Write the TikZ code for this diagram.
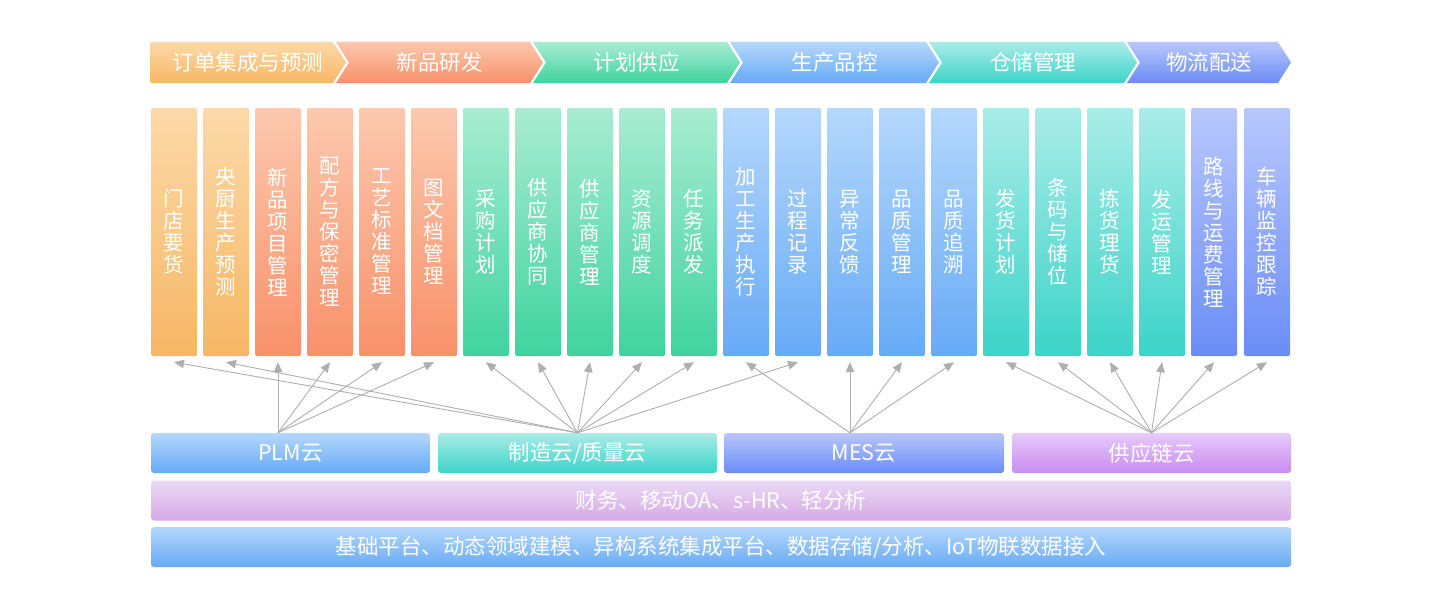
\documentclass[tikz,border=0pt]{standalone}
\usepackage{fontspec}
\setmainfont{Noto Sans CJK SC}
\usepackage{xcolor}
\usetikzlibrary{arrows.meta}
\definecolor{orange_top}{HTML}{FCD9A8}
\definecolor{orange_bot}{HTML}{F7B765}
\definecolor{salmon_top}{HTML}{FCC8AE}
\definecolor{salmon_bot}{HTML}{F8916A}
\definecolor{green_top}{HTML}{A9ECD2}
\definecolor{green_bot}{HTML}{3FD39F}
\definecolor{blue_top}{HTML}{B5D7FC}
\definecolor{blue_bot}{HTML}{66AAF6}
\definecolor{teal_top}{HTML}{AAECE7}
\definecolor{teal_bot}{HTML}{3CD4C9}
\definecolor{peri_top}{HTML}{B8C7FC}
\definecolor{peri_bot}{HTML}{6A8CF6}
\definecolor{purple_top}{HTML}{E7CAFA}
\definecolor{purple_bot}{HTML}{C98BF2}
\definecolor{lilac_top}{HTML}{EBDAF5}
\definecolor{lilac_bot}{HTML}{D5A9E6}
\definecolor{arrow_gray}{HTML}{AFAFAF}

\begin{document}
\begin{tikzpicture}[x=1pt, y=-1pt, >={Triangle[length=10pt,width=8.5pt]},
  every node/.style={text=white, inner sep=0pt},
  col/.style={minimum width=46pt, minimum height=248pt, rounded corners=2pt,
    align=center, font=\fontsize{20.5}{22}\selectfont},
  layer/.style={minimum height=40pt, rounded corners=3pt, font=\fontsize{21.5}{24}\selectfont},
  band/.style={font=\fontsize{21.5}{24}\selectfont},
  link/.style={->, arrow_gray, line width=0.9pt}]

  \fill[white] (0,0) rectangle (1440,610);

  % process banner
  \shade[top color=orange_top, bottom color=orange_bot, rounded corners=2pt]
    (150,42) -- (333,42) [sharp corners] -- (346,62.5) -- (333,83) [rounded corners=2pt] -- (150,83) -- cycle;
  \shade[top color=salmon_top, bottom color=salmon_bot]
    (336,42) -- (530,42) -- (543,62.5) -- (530,83) -- (336,83) -- (349,62.5) -- cycle;
  \shade[top color=green_top, bottom color=green_bot]
    (533,42) -- (727,42) -- (740,62.5) -- (727,83) -- (533,83) -- (546,62.5) -- cycle;
  \shade[top color=blue_top, bottom color=blue_bot]
    (730,42) -- (926,42) -- (939,62.5) -- (926,83) -- (730,83) -- (743,62.5) -- cycle;
  \shade[top color=teal_top, bottom color=teal_bot]
    (929,42) -- (1124,42) -- (1137,62.5) -- (1124,83) -- (929,83) -- (942,62.5) -- cycle;
  \shade[top color=peri_top, bottom color=peri_bot]
    (1127,42) -- (1278,42) -- (1291,62.5) -- (1278,83) -- (1127,83) -- (1140,62.5) -- cycle;

  \node[band] (b1) at (248,62.5) {订单集成与预测};
  \node[band] (b2) at (439.5,62.5) {新品研发};
  \node[band] (b3) at (636.5,62.5) {计划供应};
  \node[band] (b4) at (834.5,62.5) {生产品控};
  \node[band] (b5) at (1033,62.5) {仓储管理};
  \node[band] (b6) at (1209,62.5) {物流配送};

  % function columns
  \node[col, top color=orange_top, bottom color=orange_bot] (c1) at (174,232) {门\\店\\要\\货};
  \node[col, top color=orange_top, bottom color=orange_bot] (c2) at (226,232) {央\\厨\\生\\产\\预\\测};
  \node[col, top color=salmon_top, bottom color=salmon_bot] (c3) at (278,232) {新\\品\\项\\目\\管\\理};
  \node[col, top color=salmon_top, bottom color=salmon_bot] (c4) at (330,232) {配\\方\\与\\保\\密\\管\\理};
  \node[col, top color=salmon_top, bottom color=salmon_bot] (c5) at (382,232) {工\\艺\\标\\准\\管\\理};
  \node[col, top color=salmon_top, bottom color=salmon_bot] (c6) at (434,232) {图\\文\\档\\管\\理};
  \node[col, top color=green_top, bottom color=green_bot] (c7) at (486,232) {采\\购\\计\\划};
  \node[col, top color=green_top, bottom color=green_bot] (c8) at (538,232) {供\\应\\商\\协\\同};
  \node[col, top color=green_top, bottom color=green_bot] (c9) at (590,232) {供\\应\\商\\管\\理};
  \node[col, top color=green_top, bottom color=green_bot] (c10) at (642,232) {资\\源\\调\\度};
  \node[col, top color=green_top, bottom color=green_bot] (c11) at (694,232) {任\\务\\派\\发};
  \node[col, top color=blue_top, bottom color=blue_bot] (c12) at (746,232) {加\\工\\生\\产\\执\\行};
  \node[col, top color=blue_top, bottom color=blue_bot] (c13) at (798,232) {过\\程\\记\\录};
  \node[col, top color=blue_top, bottom color=blue_bot] (c14) at (850,232) {异\\常\\反\\馈};
  \node[col, top color=blue_top, bottom color=blue_bot] (c15) at (902,232) {品\\质\\管\\理};
  \node[col, top color=blue_top, bottom color=blue_bot] (c16) at (954,232) {品\\质\\追\\溯};
  \node[col, top color=teal_top, bottom color=teal_bot] (c17) at (1006,232) {发\\货\\计\\划};
  \node[col, top color=teal_top, bottom color=teal_bot] (c18) at (1058,232) {条\\码\\与\\储\\位};
  \node[col, top color=teal_top, bottom color=teal_bot] (c19) at (1110,232) {拣\\货\\理\\货};
  \node[col, top color=teal_top, bottom color=teal_bot] (c20) at (1162,232) {发\\运\\管\\理};
  \node[col, top color=peri_top, bottom color=peri_bot] (c21) at (1214,232) {路\\线\\与\\运\\费\\管\\理};
  \node[col, top color=peri_top, bottom color=peri_bot] (c22) at (1267,232) {车\\辆\\监\\控\\跟\\踪};

  % cloud layer
  \node[layer, minimum width=279pt, top color=blue_top, bottom color=blue_bot] (plm) at (290.5,453) {PLM云};
  \node[layer, minimum width=279pt, top color=teal_top, bottom color=teal_bot] (zhizao) at (577.5,453) {制造云/质量云};
  \node[layer, minimum width=280pt, top color=peri_top, bottom color=peri_bot] (mes) at (864,453) {MES云};
  \node[layer, minimum width=279pt, top color=purple_top, bottom color=purple_bot] (gyl) at (1151.5,453) {供应链云};

  \node[layer, minimum width=1140pt, top color=lilac_top, bottom color=lilac_bot] (common) at (721,500.5) {财务、移动OA、s-HR、轻分析};
  \node[layer, minimum width=1140pt, top color=blue_top, bottom color=blue_bot] (base) at (721,547) {基础平台、动态领域建模、异构系统集成平台、数据存储/分析、IoT物联数据接入};

  % links from clouds to functions
  \draw[link] (c3 |- plm.north) -- ([yshift=-6pt]c3.south);
  \draw[link] (c3 |- plm.north) -- ([yshift=-6pt]c4.south);
  \draw[link] (c3 |- plm.north) -- ([yshift=-6pt]c5.south);
  \draw[link] (c3 |- plm.north) -- ([yshift=-6pt]c6.south);

  \draw[link] (zhizao.north) -- ([yshift=-6pt]c1.south);
  \draw[link] (zhizao.north) -- ([yshift=-6pt]c2.south);
  \draw[link] (zhizao.north) -- ([yshift=-6pt]c7.south);
  \draw[link] (zhizao.north) -- ([yshift=-6pt]c8.south);
  \draw[link] (zhizao.north) -- ([yshift=-6pt]c9.south);
  \draw[link] (zhizao.north) -- ([yshift=-6pt]c10.south);
  \draw[link] (zhizao.north) -- ([yshift=-6pt]c11.south);
  \draw[link] (zhizao.north) -- ([yshift=-6pt]c13.south);

  \draw[link] (c14 |- mes.north) -- ([yshift=-6pt]c12.south);
  \draw[link] (c14 |- mes.north) -- ([yshift=-6pt]c14.south);
  \draw[link] (c14 |- mes.north) -- ([yshift=-6pt]c15.south);
  \draw[link] (c14 |- mes.north) -- ([yshift=-6pt]c16.south);

  \draw[link] (gyl.north) -- ([yshift=-6pt]c17.south);
  \draw[link] (gyl.north) -- ([yshift=-6pt]c18.south);
  \draw[link] (gyl.north) -- ([yshift=-6pt]c19.south);
  \draw[link] (gyl.north) -- ([yshift=-6pt]c20.south);
  \draw[link] (gyl.north) -- ([yshift=-6pt]c21.south);
  \draw[link] (gyl.north) -- ([yshift=-6pt]c22.south);

\end{tikzpicture}
\end{document}
